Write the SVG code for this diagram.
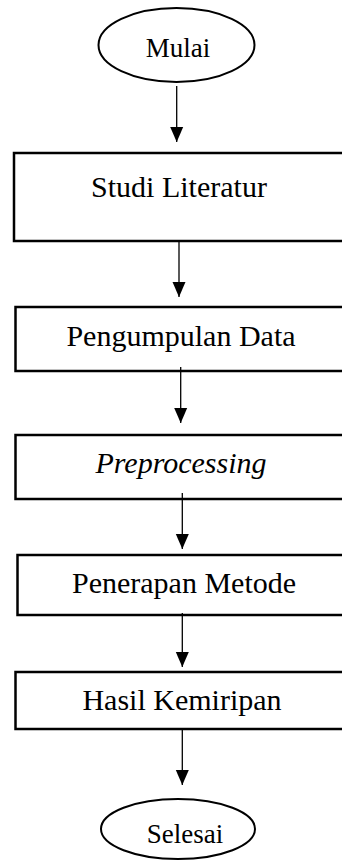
<svg xmlns="http://www.w3.org/2000/svg" width="342" height="862" viewBox="0 0 342 862">
<style>
.box{fill:#fff;stroke:#000;stroke-width:2.5}
.ell{fill:#fff;stroke:#000;stroke-width:2}
.t{font-family:"Liberation Serif","Times New Roman",serif;font-size:30px;fill:#000;text-anchor:middle}
.te{font-family:"Liberation Serif","Times New Roman",serif;font-size:27px;fill:#000;text-anchor:middle}
.ln{stroke:#000;stroke-width:1.3;fill:none}
</style>
<defs>
<marker id="ah" markerWidth="16" markerHeight="14" refX="15" refY="7" orient="auto" markerUnits="userSpaceOnUse" viewBox="0 0 16 14">
<path d="M0,0.5 L15,7 L0,13.5 Z" fill="#000"/>
</marker>
</defs>
<g id="mulai"><ellipse class="ell" cx="176.5" cy="45" rx="78" ry="37"/><text class="te" x="178" y="57">Mulai</text></g>
<g id="studi"><rect class="box" x="14" y="153" width="340" height="88"/><text class="t" x="179" y="197">Studi Literatur</text></g>
<g id="pengumpulan"><rect class="box" x="15.5" y="307" width="340" height="64"/><text class="t" x="181" y="346">Pengumpulan Data</text></g>
<g id="preprocessing"><rect class="box" x="15.5" y="435" width="340" height="64"/><text class="t" x="181" y="473" font-style="italic">Preprocessing</text></g>
<g id="penerapan"><rect class="box" x="17.5" y="555" width="340" height="60"/><text class="t" x="184" y="593">Penerapan Metode</text></g>
<g id="hasil"><rect class="box" x="15.5" y="672" width="340" height="57"/><text class="t" x="182" y="710">Hasil Kemiripan</text></g>
<g id="selesai"><ellipse class="ell" cx="178" cy="829" rx="77" ry="30"/><text class="te" x="185" y="843">Selesai</text></g>
<g id="connectors">
<line class="ln" x1="176.7" y1="86" x2="176.7" y2="142" marker-end="url(#ah)"/>
<line class="ln" x1="179" y1="242" x2="179" y2="297" marker-end="url(#ah)"/>
<line class="ln" x1="180.7" y1="367" x2="180.7" y2="423" marker-end="url(#ah)"/>
<line class="ln" x1="182.3" y1="493" x2="182.3" y2="549" marker-end="url(#ah)"/>
<line class="ln" x1="182.3" y1="613" x2="182.3" y2="667" marker-end="url(#ah)"/>
<line class="ln" x1="182.3" y1="728" x2="182.3" y2="785" marker-end="url(#ah)"/>
</g>
</svg>
